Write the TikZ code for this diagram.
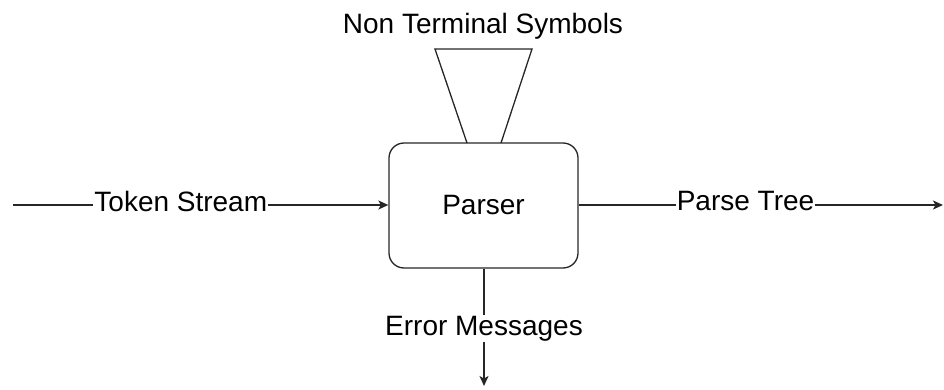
\documentclass[tikz,border=0pt]{standalone}
\usepackage{fontspec}
\setmainfont{Liberation Sans}
\usetikzlibrary{arrows.meta}
\begin{document}
\begin{tikzpicture}[x=1pt,y=-1pt,
  line/.style={line width=1.3pt,draw=black!85},
  arr/.style={line,-{Stealth[length=10pt,width=9pt,inset=2.5pt]}},
  lbl/.style={fill=white,inner sep=1pt,font=\fontsize{28}{32}\selectfont},
  procbox/.style={line,rounded corners=15pt,minimum width=189pt,minimum height=125pt,inner sep=0pt,font=\fontsize{28}{32}\selectfont}]
\useasboundingbox (0,0) rectangle (944,390);
\node[procbox] (parser) at (483.5,205.5) {Parser};
\coordinate (tl) at (435,49);
\coordinate (tr) at (532,49);
\coordinate (br) at (501,143);
\coordinate (bl) at (467,143);
\draw[line,line join=miter] (bl) -- (tl) -- (tr) -- (br);
\node[font=\fontsize{28}{32}\selectfont] (nts) at (483,26) {Non Terminal Symbols};
\coordinate (inL) at (13,205);
\coordinate (outR) at (943,205);
\coordinate (errB) at (484,386);
\draw[arr] (inL) -- node[lbl,pos=0.447,yshift=4pt] {Token Stream} (inL -| parser.west);
\draw[arr] (parser.east |- outR) -- node[lbl,pos=0.458,yshift=4pt] {Parse Tree} (outR);
\draw[arr] (parser.south -| errB) -- node[lbl,pos=0.51] {Error Messages} (errB);
\end{tikzpicture}
\end{document}
